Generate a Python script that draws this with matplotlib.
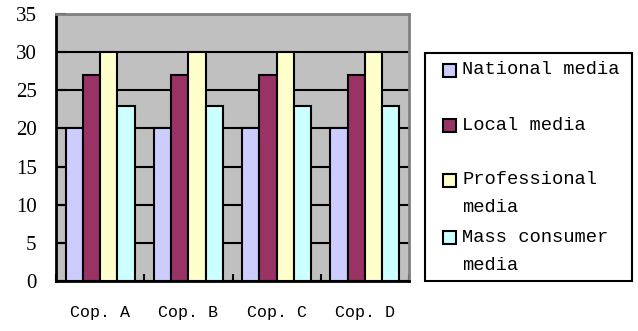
import numpy as np
import matplotlib.pyplot as plt
from matplotlib.patches import Rectangle

# Datos
companies = ['Cop. A', 'Cop. B', 'Cop. C', 'Cop. D']
series = ['National media', 'Local media', 'Professional\nmedia', 'Mass consumer\nmedia']
national = [20, 20, 20, 20]
local = [27, 27, 27, 27]
professional = [30, 30, 30, 30]
mass_consumer = [23, 23, 23, 23]
values = [national, local, professional, mass_consumer]
colors = ['#CCCCFF', '#993366', '#FFFFCC', '#CCFFFF']

W, H = 638, 331
fig = plt.figure(figsize=(W / 100, H / 100), dpi=100)
ax = fig.add_axes([56 / W, 1 - 281 / H, 353 / W, 267 / H])
ax.set_facecolor('#C0C0C0')

x = np.arange(len(companies))
w = 0.196
for i, (vals, c) in enumerate(zip(values, colors)):
    ax.bar(x + (i - 1.5) * w, vals, w, color=c, edgecolor='black', linewidth=1.5, zorder=3)

ax.set_xlim(-0.5, len(companies) - 0.5)
ax.set_ylim(0, 35)
ax.set_yticks(range(0, 36, 5))
ax.yaxis.grid(True, color='black', linewidth=1.5, zorder=1)
ax.set_axisbelow(True)

ax.set_xticks(np.arange(len(companies) + 1) - 0.5)
ax.set_xticklabels([])
ax.set_xticks(x, minor=True)
ax.set_xticklabels(companies, minor=True, fontfamily='Liberation Mono', fontsize=12)
ax.tick_params(axis='x', which='major', direction='in', length=5, width=1.5)
ax.tick_params(axis='x', which='minor', length=0, pad=17)
ax.tick_params(axis='y', direction='in', length=7, width=1.5, pad=14)
for lab in ax.get_yticklabels():
    lab.set_fontfamily('Liberation Serif')
    lab.set_fontsize(15)

for s in ['left', 'bottom']:
    ax.spines[s].set_linewidth(2)
    ax.spines[s].set_color('black')
for s in ['top', 'right']:
    ax.spines[s].set_linewidth(2)
    ax.spines[s].set_color('#808080')

# Leyenda dibujada a mano
fig.patches.append(Rectangle((425 / W, 1 - 281 / H), 207 / W, 228 / H,
                             transform=fig.transFigure, facecolor='white',
                             edgecolor='black', linewidth=1.5))
legend_y = [70, 125, 180, 237]
for lab, c, yy in zip(series, colors, legend_y):
    fig.patches.append(Rectangle((443 / W, 1 - (yy + 7) / H), 13 / W, 13 / H,
                                 transform=fig.transFigure, facecolor=c,
                                 edgecolor='black', linewidth=1.5))
    for k, line in enumerate(lab.split('\n')):
        fig.text(462 / W, 1 - (yy + k * 28) / H, line, fontfamily='Liberation Mono',
                 fontsize=13.5, ha='left', va='center')

plt.savefig('out.png', dpi=100)
